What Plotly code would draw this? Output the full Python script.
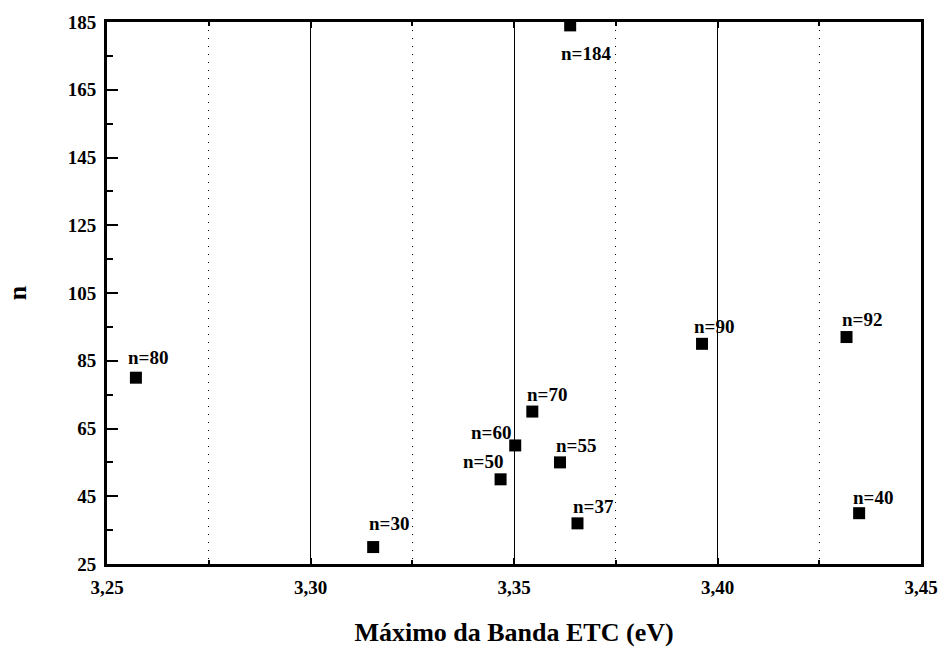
import plotly.graph_objects as go

# Data
energy_ev = [3.2571, 3.3154, 3.3467, 3.3503, 3.3545, 3.3613, 3.3656, 3.3638, 3.3962, 3.4317, 3.4348]
n_values = [80, 30, 50, 60, 70, 55, 37, 184, 90, 92, 40]
point_labels = ["n=80", "n=30", "n=50", "n=60", "n=70", "n=55", "n=37", "n=184", "n=90", "n=92", "n=40"]

x_tick_vals = [3.25, 3.30, 3.35, 3.40, 3.45]
x_tick_text = ["3,25", "3,30", "3,35", "3,40", "3,45"]
y_tick_vals = [25, 45, 65, 85, 105, 125, 145, 165, 185]
y_tick_text = ["25", "45", "65", "85", "105", "125", "145", "165", "185"]

FONT = "Liberation Serif"

# label placement (styling): (xanchor, xshift, yshift)
label_place = {
    "n=80": ("left", -10, 20),
    "n=30": ("left", -6, 24),
    "n=50": ("right", 4, 18),
    "n=60": ("right", -2, 13),
    "n=70": ("left", -7, 17),
    "n=55": ("left", -6, 17),
    "n=37": ("left", -6, 17),
    "n=184": ("left", -11, -28),
    "n=90": ("left", -10, 17),
    "n=92": ("left", -7, 18),
    "n=40": ("left", -8, 16),
}

fig = go.Figure()
fig.add_trace(go.Scatter(
    x=energy_ev, y=n_values, mode="markers",
    marker=dict(symbol="square", size=12, color="black"),
    showlegend=False, cliponaxis=False,
))

for x, y, t in zip(energy_ev, n_values, point_labels):
    xa, xs, ys = label_place[t]
    fig.add_annotation(
        x=x, y=y, text="<b>%s</b>" % t, showarrow=False,
        xanchor=xa, yanchor="middle", xshift=xs, yshift=ys,
        font=dict(family=FONT, size=19, color="black"),
    )

fig.update_layout(
    width=945, height=647,
    margin=dict(l=107, r=24, t=22, b=83),
    paper_bgcolor="white", plot_bgcolor="white",
    font=dict(family=FONT, color="black"),
    xaxis=dict(
        range=[3.25, 3.45], tickvals=x_tick_vals,
        ticktext=["<b>%s</b>" % s for s in x_tick_text],
        showgrid=True, gridcolor="black", gridwidth=1,
        showline=True, linecolor="black", linewidth=3, mirror="ticks",
        ticks="inside", ticklen=6, tickwidth=2, tickcolor="black",
        tickfont=dict(family=FONT, size=19),
        ticklabelstandoff=4,
        minor=dict(dtick=0.025, tick0=3.25, showgrid=True, griddash="1px,7px",
                   gridcolor="black", gridwidth=1, ticks="inside", ticklen=4),
        zeroline=False, automargin=False,
        title=dict(text="<b>Máximo da Banda ETC (eV)</b>",
                   font=dict(family=FONT, size=26), standoff=28),
    ),
    yaxis=dict(
        range=[25, 185], tickvals=y_tick_vals,
        ticktext=["<b>%s</b>" % s for s in y_tick_text],
        showgrid=False,
        showline=True, linecolor="black", linewidth=3, mirror=True,
        ticks="inside", ticklen=11, tickwidth=2, tickcolor="black",
        tickfont=dict(family=FONT, size=19),
        ticklabelstandoff=4,
        minor=dict(dtick=10, tick0=25, ticks="inside", ticklen=6, tickwidth=2, tickcolor="black"),
        zeroline=False, automargin=False,
        title=dict(text="<b>n</b>", font=dict(family=FONT, size=26), standoff=34),
    ),
)

fig.write_html("out.html")
